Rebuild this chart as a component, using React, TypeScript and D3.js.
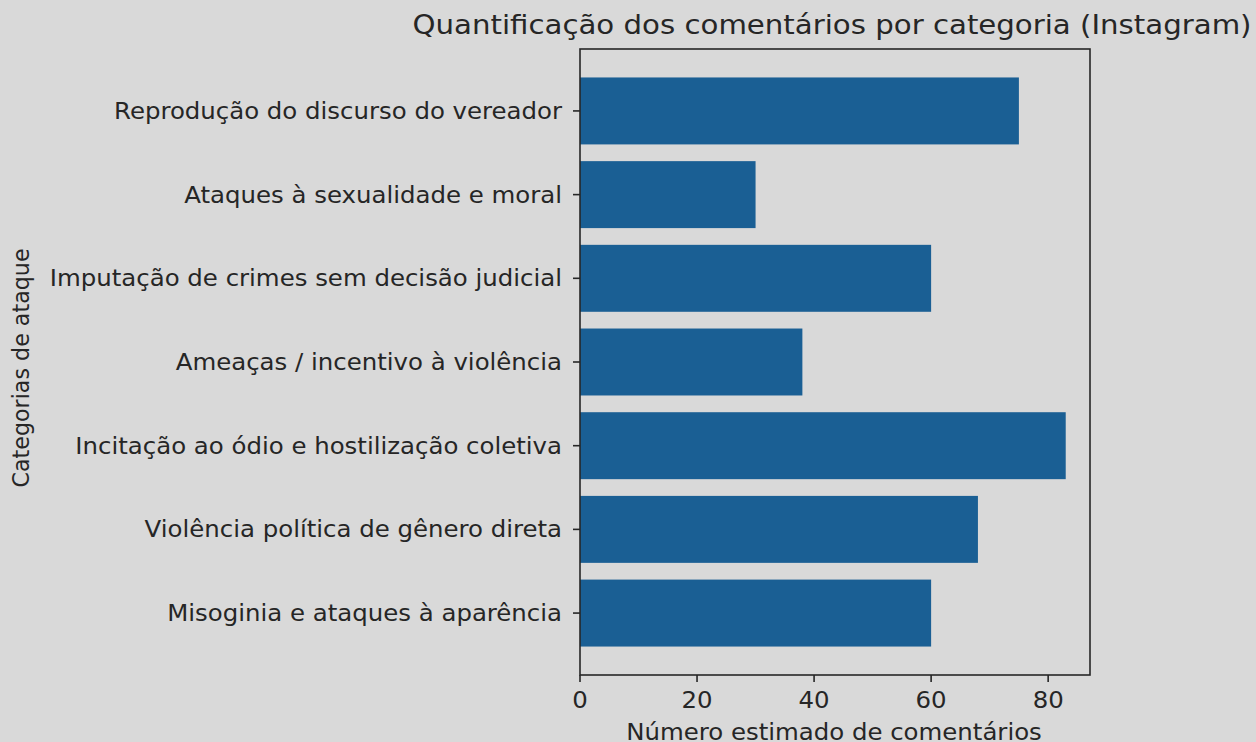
import React from 'react';
import * as d3 from 'd3';

// categories listed bottom to top, as matplotlib draws barh
const categories = [
  'Misoginia e ataques à aparência',
  'Violência política de gênero direta',
  'Incitação ao ódio e hostilização coletiva',
  'Ameaças / incentivo à violência',
  'Imputação de crimes sem decisão judicial',
  'Ataques à sexualidade e moral',
  'Reprodução do discurso do vereador',
];
const values = [60, 68, 83, 38, 60, 30, 75];
const xTicks = [0, 20, 40, 60, 80];

const ink = '#262626';
const font = 'DejaVu Sans';
const fontSize = 22.2;
const stretch = 1.1;

// horizontal text in the reference is a little wider than the font would give
const Label = ({ x, y, anchor, dy, children }) =>
  <text transform={`translate(${x}, ${y}) scale(${stretch}, 1)`} dy={dy} textAnchor={anchor}
    fill={ink} fontFamily={font} fontSize={fontSize}>{children}</text>;

const App = () => {
  const width = 1256;
  const height = 742;
  const margin = { top: 49, bottom: 67, left: 580, right: 166 };
  const chartWidth = width - margin.left - margin.right;
  const chartHeight = height - margin.top - margin.bottom;
  const bg = '#d9d9d9';

  const xMax = d3.max(values) * 1.05;
  const xScale = d3.scaleLinear().domain([0, xMax]).range([0, chartWidth]);

  // bar centres at integer positions, with 5% margins like matplotlib
  const lo = -0.4, hi = categories.length - 1 + 0.4;
  const pad = (hi - lo) * 0.05;
  const yScale = d3.scaleLinear().domain([lo - pad, hi + pad]).range([chartHeight, 0]);
  const barH = yScale(0) - yScale(0.8);

  return (
    <div style={{ position: 'fixed', left: 0, top: 0 }}>
      <svg width={width} height={height} style={{ display: 'block', background: bg }}>
        <rect x={0} y={0} width={width} height={height} fill={bg} />
        <text x={832} y={34} textAnchor='middle' fill={ink} fontFamily={font} fontSize={26}
          textLength={839} lengthAdjust='spacingAndGlyphs'>
          Quantificação dos comentários por categoria (Instagram)
        </text>
        <g transform={`translate(${margin.left}, ${margin.top})`}>
          { categories.map((c, i) =>
            <g key={`bar-${i}`}>
              <rect x={xScale(0)} y={yScale(i) - barH / 2} width={xScale(values[i]) - xScale(0)} height={barH} fill='#1a5f94' />
              <line x1={-7} x2={0} y1={yScale(i)} y2={yScale(i)} stroke={ink} strokeWidth={1.6} />
              <Label x={-18} y={yScale(i)} dy='0.36em' anchor='end'>{c}</Label>
            </g>
          )}
          { xTicks.map(t =>
            <g key={`tick-${t}`}>
              <line x1={xScale(t)} x2={xScale(t)} y1={chartHeight} y2={chartHeight + 7} stroke={ink} strokeWidth={1.6} />
              <Label x={xScale(t)} y={chartHeight + 33} anchor='middle'>{t}</Label>
            </g>
          )}
          <rect x={0} y={0} width={chartWidth} height={chartHeight} fill='none' stroke={ink} strokeWidth={1.6} />
          <Label x={chartWidth / 2 - 1} y={chartHeight + 65} anchor='middle'>Número estimado de comentários</Label>
          <text transform={`translate(-551, ${chartHeight / 2 + 6}) rotate(-90)`} textAnchor='middle' fill={ink} fontFamily={font} fontSize={fontSize}>
            Categorias de ataque
          </text>
        </g>
      </svg>
    </div>
  );
};

export default App;
